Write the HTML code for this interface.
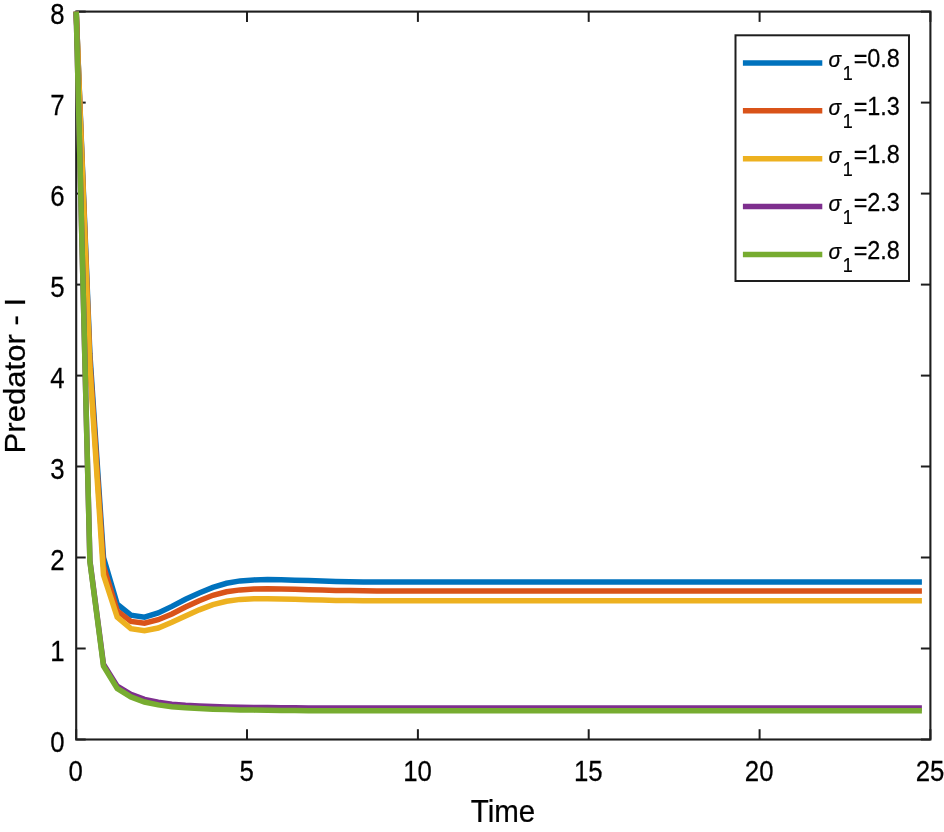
<!DOCTYPE html>
<html><head><meta charset="utf-8"><title>Predator - I</title>
<style>
html,body{margin:0;padding:0;background:#fff;}
body{width:944px;height:832px;overflow:hidden;}
svg{display:block;}
text{font-family:"Liberation Sans",Arial,sans-serif;fill:#000;stroke:#000;stroke-width:0.25px;}
.tk{font-size:30px;}
.lb{font-size:31.8px;}
.lg{font-size:26.5px;}
</style></head><body>
<svg width="944" height="832" viewBox="0 0 944 832">
<rect x="0" y="0" width="944" height="832" fill="#fff"/>
<g stroke="#1e1e1e" stroke-width="2" fill="none">
<line x1="76.2" y1="739.5" x2="76.2" y2="729.2"/>
<line x1="76.2" y1="11.6" x2="76.2" y2="21.9"/>
<line x1="247.0" y1="739.5" x2="247.0" y2="729.2"/>
<line x1="247.0" y1="11.6" x2="247.0" y2="21.9"/>
<line x1="417.9" y1="739.5" x2="417.9" y2="729.2"/>
<line x1="417.9" y1="11.6" x2="417.9" y2="21.9"/>
<line x1="588.7" y1="739.5" x2="588.7" y2="729.2"/>
<line x1="588.7" y1="11.6" x2="588.7" y2="21.9"/>
<line x1="759.6" y1="739.5" x2="759.6" y2="729.2"/>
<line x1="759.6" y1="11.6" x2="759.6" y2="21.9"/>
<line x1="930.4" y1="739.5" x2="930.4" y2="729.2"/>
<line x1="930.4" y1="11.6" x2="930.4" y2="21.9"/>
<line x1="76.2" y1="739.5" x2="85.7" y2="739.5"/>
<line x1="930.4" y1="739.5" x2="920.9" y2="739.5"/>
<line x1="76.2" y1="648.5" x2="85.7" y2="648.5"/>
<line x1="930.4" y1="648.5" x2="920.9" y2="648.5"/>
<line x1="76.2" y1="557.5" x2="85.7" y2="557.5"/>
<line x1="930.4" y1="557.5" x2="920.9" y2="557.5"/>
<line x1="76.2" y1="466.5" x2="85.7" y2="466.5"/>
<line x1="930.4" y1="466.5" x2="920.9" y2="466.5"/>
<line x1="76.2" y1="375.6" x2="85.7" y2="375.6"/>
<line x1="930.4" y1="375.6" x2="920.9" y2="375.6"/>
<line x1="76.2" y1="284.6" x2="85.7" y2="284.6"/>
<line x1="930.4" y1="284.6" x2="920.9" y2="284.6"/>
<line x1="76.2" y1="193.6" x2="85.7" y2="193.6"/>
<line x1="930.4" y1="193.6" x2="920.9" y2="193.6"/>
<line x1="76.2" y1="102.6" x2="85.7" y2="102.6"/>
<line x1="930.4" y1="102.6" x2="920.9" y2="102.6"/>
<line x1="76.2" y1="11.6" x2="85.7" y2="11.6"/>
<line x1="930.4" y1="11.6" x2="920.9" y2="11.6"/>
</g>
<rect x="76.2" y="11.6" width="854.2" height="727.9" fill="none" stroke="#1e1e1e" stroke-width="2.1"/>
<path d="M76.2,11.6 L89.9,354.0 L103.5,557.5 L117.2,604.1 L130.9,615.2 L144.5,617.1 L158.2,613.0 L171.9,606.4 L185.5,599.2 L199.2,593.0 L212.9,587.4 L226.5,583.3 L240.2,580.9 L253.9,579.9 L267.5,579.6 L281.2,579.8 L294.9,580.2 L308.5,580.6 L322.2,581.0 L335.9,581.4 L349.5,581.7 L363.2,581.9 L376.9,582.1 L921.9,582.1" fill="none" stroke="#0072BD" stroke-width="5.5" stroke-linejoin="miter" stroke-linecap="butt"/>
<path d="M76.2,11.6 L89.9,361.0 L103.5,566.0 L117.2,610.9 L130.9,621.4 L144.5,623.2 L158.2,619.7 L171.9,614.0 L185.5,607.0 L199.2,600.7 L212.9,595.3 L226.5,591.8 L240.2,589.9 L253.9,589.0 L267.5,588.7 L281.2,588.9 L294.9,589.3 L308.5,589.7 L322.2,590.1 L335.9,590.4 L349.5,590.6 L363.2,590.8 L376.9,590.9 L921.9,590.9" fill="none" stroke="#D95319" stroke-width="5.5" stroke-linejoin="miter" stroke-linecap="butt"/>
<path d="M76.2,11.6 L89.9,368.0 L103.5,575.0 L117.2,617.1 L130.9,628.6 L144.5,630.8 L158.2,628.0 L171.9,622.3 L185.5,615.9 L199.2,609.8 L212.9,604.7 L226.5,601.3 L240.2,599.4 L253.9,598.8 L267.5,598.7 L281.2,598.9 L294.9,599.3 L308.5,599.7 L322.2,600.1 L335.9,600.4 L349.5,600.6 L363.2,600.7 L376.9,600.8 L921.9,600.8" fill="none" stroke="#EDB120" stroke-width="5.5" stroke-linejoin="miter" stroke-linecap="butt"/>
<path d="M76.2,11.6 L89.9,560.5 L103.5,664.3 L117.2,686.2 L130.9,694.3 L144.5,699.4 L158.2,702.3 L171.9,704.2 L185.5,705.3 L199.2,706.1 L212.9,706.6 L226.5,706.9 L240.2,707.2 L253.9,707.4 L267.5,707.6 L281.2,707.7 L294.9,707.8 L308.5,707.9 L322.2,708.0 L921.9,708.0" fill="none" stroke="#7E2F8E" stroke-width="5.5" stroke-linejoin="miter" stroke-linecap="butt"/>
<path d="M76.2,11.6 L89.9,561.5 L103.5,666.0 L117.2,688.4 L130.9,696.9 L144.5,702.0 L158.2,704.9 L171.9,706.7 L185.5,707.7 L199.2,708.6 L212.9,709.2 L226.5,709.6 L240.2,709.9 L253.9,710.1 L267.5,710.3 L281.2,710.5 L294.9,710.6 L308.5,710.7 L322.2,710.8 L921.9,710.8" fill="none" stroke="#77AC30" stroke-width="5.5" stroke-linejoin="miter" stroke-linecap="butt"/>
<text class="tk" transform="translate(75.8,780.9) scale(0.86,1)" text-anchor="middle">0</text>
<text class="tk" transform="translate(246.6,780.9) scale(0.86,1)" text-anchor="middle">5</text>
<text class="tk" transform="translate(417.5,780.9) scale(0.86,1)" text-anchor="middle">10</text>
<text class="tk" transform="translate(588.3,780.9) scale(0.86,1)" text-anchor="middle">15</text>
<text class="tk" transform="translate(759.2,780.9) scale(0.86,1)" text-anchor="middle">20</text>
<text class="tk" transform="translate(930.0,780.9) scale(0.86,1)" text-anchor="middle">25</text>
<text class="tk" transform="translate(64.6,751.8) scale(0.86,1)" text-anchor="end">0</text>
<text class="tk" transform="translate(64.6,660.8) scale(0.86,1)" text-anchor="end">1</text>
<text class="tk" transform="translate(64.6,569.8) scale(0.86,1)" text-anchor="end">2</text>
<text class="tk" transform="translate(64.6,478.8) scale(0.86,1)" text-anchor="end">3</text>
<text class="tk" transform="translate(64.6,387.9) scale(0.86,1)" text-anchor="end">4</text>
<text class="tk" transform="translate(64.6,296.9) scale(0.86,1)" text-anchor="end">5</text>
<text class="tk" transform="translate(64.6,205.9) scale(0.86,1)" text-anchor="end">6</text>
<text class="tk" transform="translate(64.6,114.9) scale(0.86,1)" text-anchor="end">7</text>
<text class="tk" transform="translate(64.6,23.9) scale(0.86,1)" text-anchor="end">8</text>
<text class="lb" transform="translate(503,822) scale(0.93,1)" text-anchor="middle">Time</text>
<text class="lb" transform="translate(25.2,375.7) rotate(-90) scale(0.978,0.93)" text-anchor="middle">Predator - I</text>
<rect x="735.5" y="35.3" width="173.5" height="245.7" fill="#fff" stroke="#1e1e1e" stroke-width="2"/>
<line x1="742.9" y1="62.9" x2="822.3" y2="62.9" stroke="#0072BD" stroke-width="5.5"/>
<text class="lg" transform="translate(828.5,67.4) scale(0.93,1)" font-style="italic" style="font-size:22.5px">σ</text><text transform="translate(842.8,80.1) scale(0.9,1)" style="font-size:20px">1</text><text class="lg" transform="translate(853.7,67.4) scale(0.883,1)">=0.8</text>
<line x1="742.9" y1="110.8" x2="822.3" y2="110.8" stroke="#D95319" stroke-width="5.5"/>
<text class="lg" transform="translate(828.5,115.3) scale(0.93,1)" font-style="italic" style="font-size:22.5px">σ</text><text transform="translate(842.8,128.0) scale(0.9,1)" style="font-size:20px">1</text><text class="lg" transform="translate(853.7,115.3) scale(0.883,1)">=1.3</text>
<line x1="742.9" y1="158.7" x2="822.3" y2="158.7" stroke="#EDB120" stroke-width="5.5"/>
<text class="lg" transform="translate(828.5,163.2) scale(0.93,1)" font-style="italic" style="font-size:22.5px">σ</text><text transform="translate(842.8,175.9) scale(0.9,1)" style="font-size:20px">1</text><text class="lg" transform="translate(853.7,163.2) scale(0.883,1)">=1.8</text>
<line x1="742.9" y1="206.6" x2="822.3" y2="206.6" stroke="#7E2F8E" stroke-width="5.5"/>
<text class="lg" transform="translate(828.5,211.1) scale(0.93,1)" font-style="italic" style="font-size:22.5px">σ</text><text transform="translate(842.8,223.8) scale(0.9,1)" style="font-size:20px">1</text><text class="lg" transform="translate(853.7,211.1) scale(0.883,1)">=2.3</text>
<line x1="742.9" y1="254.4" x2="822.3" y2="254.4" stroke="#77AC30" stroke-width="5.5"/>
<text class="lg" transform="translate(828.5,258.9) scale(0.93,1)" font-style="italic" style="font-size:22.5px">σ</text><text transform="translate(842.8,271.6) scale(0.9,1)" style="font-size:20px">1</text><text class="lg" transform="translate(853.7,258.9) scale(0.883,1)">=2.8</text>
</svg>
</body></html>
